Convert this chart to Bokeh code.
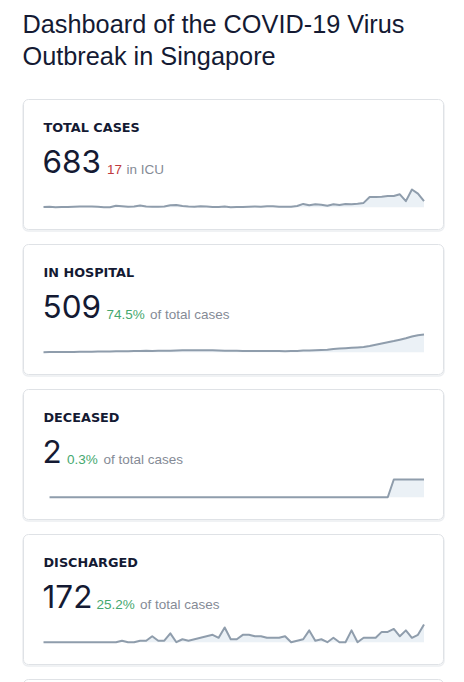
from bokeh.plotting import figure
from bokeh.models import Range1d
from bokeh.core.properties import value
from bokeh.embed import file_html
from bokeh.resources import INLINE

# ---------------- data ----------------
title_lines = ["Dashboard of the COVID-19 Virus", "Outbreak in Singapore"]
card_titles = ["TOTAL CASES", "IN HOSPITAL", "DECEASED", "DISCHARGED"]
card_numbers = ["683", "509", "2", "172"]
note_values = ["17", "74.5%", "0.3%", "25.2%"]
note_texts = ["in ICU", "of total cases", "of total cases", "of total cases"]

days = list(range(64))
new_cases = [1, 2, 0, 1, 1, 2, 3, 3, 3, 2, 0, 0, 6, 4, 2, 3, 7, 3, 2, 2,
             3, 8, 9, 5, 3, 2, 4, 3, 1, 1, 3, 0, 1, 1, 2, 3, 2, 4, 4, 2,
             2, 2, 5, 13, 8, 12, 10, 6, 12, 9, 13, 12, 14, 17, 40, 40, 41, 44, 44, 51,
             24, 70, 54, 24]
in_hospital = [1, 3, 3, 4, 5, 7, 10, 13, 16, 18, 18, 18, 24, 27, 29, 32, 38, 40, 38, 39,
               41, 43, 52, 55, 57, 57, 58, 57, 53, 51, 44, 42, 41, 37, 34, 33, 31, 32, 33, 32,
               30, 32, 36, 47, 47, 58, 66, 72, 95, 105, 115, 125, 138, 150, 180, 215, 250, 285, 320, 360,
               400, 450, 490, 509]
deceased_days = days[1:]
deceased = [0] * 57 + [2, 2, 2, 2, 2, 2]
discharged = [0, 0, 0, 0, 0, 0, 0, 0, 0, 0, 0, 0,
              0, 1, 0, 0, 1, 1, 4, 1, 1, 6, 0, 2, 1, 2, 3, 4, 5, 3, 10,
              2, 2, 5, 5, 4, 4, 3, 3, 3, 4, 0, 1, 2, 8, 1, 2, 0, 3, 0, 0,
              8, 0, 3, 3, 3, 7, 7, 9, 4, 8, 3, 5, 12]

series = [(days, new_cases), (days, in_hospital), (deceased_days, deceased), (days, discharged)]

# ---------------- layout / style ----------------
W, H = 456, 682
FONT = "Liberation Sans"
NAVY = "#141a33"
GREY = "#858b96"
RED = "#bf3a40"
GREEN = "#45a86f"
LINE = "#8f9dac"
FILL = "#d3dfec"

card_tops = [99, 244, 389, 534]
card_left, card_right, card_h = 23, 443, 130
spark_x0, spark_x1 = 43, 423.5
spark_base_off, spark_height = 107.7, 17.7
note_x = [(106.5, 126), (106, 149.5), (66.5, 103), (96, 139.5)]
# vertical positions (text anchor) measured against the reference
title_y = [23, 55]
card_title_off = 27.7
number_off = 62
note_off = 69.5

p = figure(width=W, height=H, x_range=Range1d(0, W), y_range=Range1d(H, 0),
           output_backend="svg", toolbar_location=None, min_border=0,
           x_axis_location=None, y_axis_location=None)
p.grid.visible = False
p.outline_line_color = None
p.background_fill_color = "white"
p.border_fill_color = "white"

# title
p.text(x=[22, 22], y=title_y, text=title_lines, text_font=value(FONT), text_font_size="25.3px",
       text_color=NAVY, text_baseline="alphabetic", text_align="left")

# x range shared by the sparklines
n = len(days)
span_x = W * (n - 1) / (spark_x1 - spark_x0)
lo_x = -spark_x0 * span_x / W
p.extra_x_ranges = {"spark_x": Range1d(lo_x, lo_x + span_x)}

# card boxes (the fifth one is the next card, cut off by the window)
for top in card_tops + [card_tops[-1] + 145]:
    p.quad(left=card_left - 0.5, right=card_right + 0.5, top=top + 1.5, bottom=top + card_h + 1.5,
           fill_color=None, line_color="#eceef1", line_width=1.5, border_radius=5)
    p.quad(left=card_left, right=card_right, top=top, bottom=top + card_h,
           fill_color="white", line_color="#dfe2e6", line_width=1, border_radius=5)

extra_y = {}
for k, top in enumerate(card_tops):
    xs, ys = series[k]
    base = top + spark_base_off
    m = max(ys)
    span_y = H * m / spark_height
    lo_y = (base - H) * span_y / H
    extra_y[f"spark{k}"] = Range1d(lo_y, lo_y + span_y)
p.extra_y_ranges = extra_y

for k, top in enumerate(card_tops):
    xs, ys = series[k]
    name = f"spark{k}"
    p.varea(x=xs, y1=0, y2=ys, fill_color=FILL, fill_alpha=0.45,
            x_range_name="spark_x", y_range_name=name)
    p.line(x=xs, y=ys, line_color=LINE, line_width=2, line_join="round",
           x_range_name="spark_x", y_range_name=name)

    p.text(x=[43], y=[top + card_title_off], text=[card_titles[k]], text_font=value("DejaVu Sans"),
           text_font_style="bold", text_font_size="12.8px", text_color=NAVY,
           text_baseline="alphabetic")
    p.text(x=[42], y=[top + number_off], text=[card_numbers[k]], text_font=value("Inter"),
           text_font_size="31.5px", text_color=NAVY, text_baseline="alphabetic")
    p.text(x=[note_x[k][0]], y=[top + note_off], text=[note_values[k]], text_font=value(FONT),
           text_font_size="13.5px", text_color=RED if k == 0 else GREEN,
           text_baseline="alphabetic")
    p.text(x=[note_x[k][1]], y=[top + note_off], text=[note_texts[k]], text_font=value(FONT),
           text_font_size="13.5px", text_color=GREY, text_baseline="alphabetic")

open("out.html", "w").write(file_html(p, INLINE))
